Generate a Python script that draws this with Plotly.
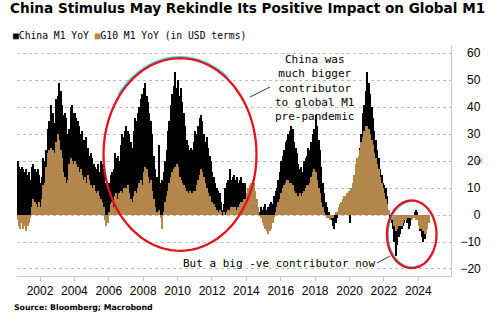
import numpy as np
import pandas as pd
import plotly.graph_objects as go

# Monthly % YoY (in USD terms), Sep 2000 - Aug 2024
start_month = "2000-09"

china_m1 = [
    # 2000 (Sep-Dec)
    20, 18, 17, 18,
    # 2001
    17, 16, 17, 15, 16, 13, 18, 19, 17, 16, 17, 15,
    # 2002
    12, 14, 21, 20, 24, 32, 35, 41, 36, 38, 34, 43,
    # 2003
    44, 49, 46, 41, 37, 38, 36, 30, 32, 40, 41, 38,
    # 2004
    38, 36, 35, 33, 30, 31, 28, 27, 29, 25, 22, 23,
    # 2005
    21, 19, 18, 17, 19, 16, 20, 19, 17, 12, 11, 10,
    # 2006
    12, 15, 16, 17, 23, 21, 22, 20, 26, 30, 29, 31,
    # 2007
    33, 31, 30, 27, 25, 31, 36, 35, 38, 40, 43, 45,
    # 2008
    47, 49, 44, 42, 38, 35, 30, 22, 17, 14, 12, 26,
    # 2009
    12, 13, 16, 20, 24, 31, 35, 41, 45, 48, 53, 47,
    # 2010
    50, 44, 47, 42, 38, 33, 28, 26, 24, 25, 24, 27,
    # 2011
    31, 30, 33, 36, 37, 35, 30, 27, 29, 25, 22, 20,
    # 2012
    16, 14, 12, 10, 9, 8, 5, 2, 4, 10, 12, 13,
    # 2013
    17, 13, 14, 15, 13, 14, 12, 13, 14, 12, 11, 12,
    # 2014
    5, 3, 6, 10, 12, 11, 7, 3, 2, 1, 3, 2,
    # 2015
    3, 4, 2, 3, 4, 5, 4, 7, 9, 10, 13, 16,
    # 2016
    20, 22, 24, 27, 28, 30, 31, 33, 32, 27, 25, 23,
    # 2017
    19, 17, 18, 16, 20, 21, 22, 25, 24, 27, 30, 32,
    # 2018
    37, 33, 28, 24, 18, 12, 8, 5, 3, 1, -1, -2,
    # 2019
    -4, -5, -3, -1, 0, 1, 2, 4, 5, 6, 5, 6,
    # 2020
    -3, 5, 9, 12, 15, 19, 22, 25, 30, 38, 41, 46,
    # 2021
    53, 49, 45, 40, 36, 31, 28, 24, 21, 17, 15, 12,
    # 2022
    11, 10, 7, 2, -1, -3, -5, -10, -15, -11, -8, -7,
    # 2023
    -5, -4, -3, -2, -3, -5, -4, -2, 0, 1, 2, 1,
    # 2024
    -4, -6, -8, -10, -9, -7, -4, -2,
]

g10_m1 = [
    # 2000 (Sep-Dec)
    -2, -4, -5, -3,
    # 2001
    -5, -4, -6, -4, -3, -1, 3, 6, 5, 4, 3, 5,
    # 2002
    3, 6, 11, 12, 18, 23, 24, 25, 22, 24, 23, 27,
    # 2003
    30, 28, 24, 21, 16, 14, 12, 13, 19, 21, 20, 19,
    # 2004
    20, 19, 18, 16, 17, 15, 13, 14, 12, 15, 13, 11,
    # 2005
    10, 11, 9, 8, 9, 7, 6, 5, 3, -2, -4, -3,
    # 2006
    1, 4, 5, 3, 7, 8, 6, 8, 9, 8, 10, 9,
    # 2007
    10, 11, 8, 6, 5, 7, 9, 8, 10, 12, 13, 11,
    # 2008
    16, 18, 17, 14, 12, 13, 9, 6, 3, 1, 0, 2,
    # 2009
    -1, -5, 1, 5, 7, 9, 12, 14, 16, 17, 18, 19,
    # 2010
    18, 14, 13, 12, 11, 10, 9, 8, 9, 7, 8, 9,
    # 2011
    9, 11, 13, 15, 17, 16, 14, 12, 10, 8, 7, 5,
    # 2012
    5, 4, 3, 2, 1, 2, 1, 0, 1, 0, 1, 2,
    # 2013
    2, 3, 3, 2, 3, 2, 3, 4, 5, 5, 6, 6,
    # 2014
    8, 10, 11, 12, 13, 12, 9, 6, 3, 0, -1, -3,
    # 2015
    -4, -5, -6, -7, -6, -5, -3, -1, 1, 3, 5, 6,
    # 2016
    8, 10, 11, 12, 13, 13, 12, 12, 11, 9, 8, 7,
    # 2017
    7, 8, 7, 8, 9, 10, 11, 11, 12, 14, 16, 17,
    # 2018
    16, 13, 10, 8, 5, 3, 1, 0, -1, -1, -2, -1,
    # 2019
    -1, 0, 1, 1, 3, 4, 5, 6, 7, 7, 8, 9,
    # 2020
    9, 10, 12, 15, 19, 21, 22, 24, 27, 29, 31, 33,
    # 2021
    33, 32, 30, 28, 26, 23, 21, 19, 17, 14, 12, 10,
    # 2022
    8, 6, 4, 2, 0, -1, -2, -4, -6, -5, -4, -4,
    # 2023
    -4, -3, -2, -2, -1, -1, -1, -2, -1, -1, -2, -2,
    # 2024
    -4, -5, -5, -6, -7, -7, -5, -3,
]

year_ticks = list(range(2002, 2025, 2))
y_ticks = [-20, -10, 0, 10, 20, 30, 40, 50, 60]

TAN = "#B3864C"
RED = "#E3141B"
CYAN = "#3FE0F0"
GRID = "#BDBDBD"
AXIS = "#C8C8C8"

W, H = 500, 325
L, R, T, B = 17, 451, 46, 276  # plot area in pixels

months = pd.date_range(start_month, periods=len(china_m1), freq="MS")
xpos = months.year + (months.month - 1) / 12 + 1 / 24
bar_w = 1.04 / 12


def px_to_paper(px, py):
    return (px - L) / (R - L), (B - py) / (B - T)


def ylab(v):
    s = str(abs(v))
    if v < 0:
        return "\u2212" + s
    return "\u2007" * (3 - len(s)) + s


fig = go.Figure()
fig.add_bar(x=xpos, y=china_m1, width=bar_w, name="China M1 YoY",
            marker=dict(color="#000000", line=dict(width=0)))
fig.add_bar(x=xpos, y=g10_m1, width=bar_w, name="G10 M1 YoY (in USD terms)",
            marker=dict(color=TAN, line=dict(width=0)))

fig.update_layout(
    width=W, height=H,
    margin=dict(l=L, r=W - R, t=T, b=H - B, pad=0),
    barmode="overlay", bargap=0, showlegend=False,
    plot_bgcolor="white", paper_bgcolor="white",
    title=dict(
        text="<b>China Stimulus May Rekindle Its Positive Impact on Global M1</b>",
        font=dict(family="DejaVu Sans", size=13.6, color="#000000"),
        x=10 / W, xanchor="left", xref="container",
        y=1 - 3 / H, yanchor="top", yref="container",
    ),
    xaxis=dict(
        range=[2000.66, 2025.9], tickvals=year_ticks,
        ticktext=[str(y) for y in year_ticks],
        ticks="outside", ticklen=4, tickcolor=AXIS, tickwidth=1,
        showline=True, linecolor=AXIS, linewidth=1,
        showgrid=False, zeroline=False,
        tickfont=dict(family="Liberation Sans", size=12, color="#000000"),
    ),
    yaxis=dict(
        side="right", range=[-22.6, 62.7], tickvals=y_ticks,
        ticktext=[ylab(v) for v in y_ticks],
        showgrid=True, gridcolor=GRID, griddash="dot", gridwidth=1,
        showline=True, linecolor=AXIS, linewidth=1,
        zeroline=False, ticks="", ticklabelstandoff=6,
        tickfont=dict(family="Liberation Sans", size=12, color="#000000"),
    ),
)

annotations = []
# legend line
lx, ly = px_to_paper(11, 35)
annotations.append(dict(
    x=lx, y=ly, xref="paper", yref="paper", xanchor="left", yanchor="middle",
    showarrow=False, align="left",
    text="<span style='color:#000000'>\u25A0</span>China M1 YoY "
         f"<span style='color:{TAN}'>\u25A0</span>G10 M1 YoY (in USD terms)",
    font=dict(family="DejaVu Sans Mono", size=9.7, color="#000000"),
))
# callouts
cx, cy = px_to_paper(314, 87.5)
annotations.append(dict(
    x=cx, y=cy, xref="paper", yref="paper", xanchor="center", yanchor="middle",
    showarrow=False, align="center",
    text="China was<br>much bigger<br>contributor<br>to global M1<br>pre-pandemic",
    font=dict(family="DejaVu Sans Mono", size=11, color="#000000"),
))
bx, by = px_to_paper(278.5, 263.5)
annotations.append(dict(
    x=bx, y=by, xref="paper", yref="paper", xanchor="center", yanchor="middle",
    showarrow=False,
    text="But a big -ve contributor now",
    font=dict(family="DejaVu Sans Mono", size=11, color="#000000"),
))
# percent unit marker next to the 20 tick
ux, uy = px_to_paper(479, 161)
annotations.append(dict(
    x=ux, y=uy, xref="paper", yref="paper", xanchor="center", yanchor="middle",
    showarrow=False, text="%", textangle=90,
    font=dict(family="DejaVu Sans", size=7, color="#444444"),
))
# source
sx, sy = px_to_paper(12, 307)
annotations.append(dict(
    x=sx, y=sy, xref="paper", yref="paper", xanchor="left", yanchor="middle",
    showarrow=False, text="<b>Source: Bloomberg; Macrobond</b>",
    font=dict(family="DejaVu Sans", size=7.8, color="#000000"),
))
fig.update_layout(annotations=annotations)


def ellipse_path(cxp, cyp, rx, ry, a0=0, a1=360, closed=True):
    t = np.radians(np.linspace(a0, a1, 90))
    pts = [px_to_paper(cxp + rx * np.cos(a), cyp - ry * np.sin(a)) for a in t]
    d = "M " + " L ".join(f"{x:.5f},{y:.5f}" for x, y in pts)
    return d + (" Z" if closed else "")


shapes = []
# cyan glints along the circled regions
shapes.append(dict(type="path", xref="paper", yref="paper",
                   path=ellipse_path(180, 154.5, 78.2, 97.7, 52, 142, closed=False),
                   line=dict(color=CYAN, width=1.6)))
shapes.append(dict(type="path", xref="paper", yref="paper",
                   path=ellipse_path(411.7, 234.3, 23.6, 32.6, 95, 290, closed=False),
                   line=dict(color=CYAN, width=1.6)))
# red circles
shapes.append(dict(type="path", xref="paper", yref="paper",
                   path=ellipse_path(180, 154.5, 76.5, 96.3),
                   line=dict(color=RED, width=2.3)))
shapes.append(dict(type="path", xref="paper", yref="paper",
                   path=ellipse_path(411.7, 234.3, 24.8, 33.8),
                   line=dict(color=RED, width=2.3)))
# leader lines
for (x0, y0, x1, y1) in [(250, 97, 270, 87), (377, 263, 390, 256)]:
    p0 = px_to_paper(x0, y0)
    p1 = px_to_paper(x1, y1)
    shapes.append(dict(type="line", xref="paper", yref="paper",
                       x0=p0[0], y0=p0[1], x1=p1[0], y1=p1[1],
                       line=dict(color="#333333", width=1)))
fig.update_layout(shapes=shapes)

fig.write_html("out.html")
